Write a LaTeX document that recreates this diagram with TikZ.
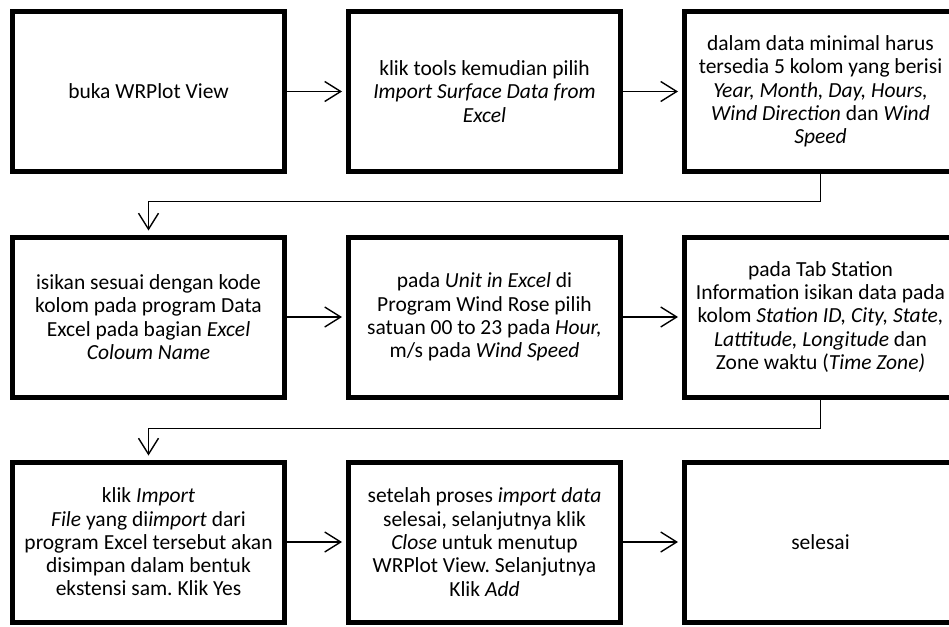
\documentclass[tikz,border=0pt]{standalone}
\usepackage{fontspec}
\setmainfont{Carlito}
\frenchspacing
\usetikzlibrary{positioning,arrows.meta}

\begin{document}
\begin{tikzpicture}[x=1pt,y=1pt]
\tikzstyle{every node}+=[inner sep=0pt]
\tikzstyle{stepbox}=[draw=black,line width=5pt,minimum width=272pt,minimum height=160pt,
  align=center,font=\fontsize{21.5}{23.3}\selectfont]
\tikzstyle{flow}=[black,line width=1.4pt,-{Straight Barb[length=16pt,width=20pt,line width=1.4pt]},shorten >=4pt]
\useasboundingbox (0,0) rectangle (949,-626);
% row 1
\node [stepbox] (buka) at (148.5,-91.5) {buka WRPlot View};
\node [stepbox,on grid,right=336pt of buka] (tools) {klik tools kemudian pilih\\ \textit{Import Surface Data from}\\ \textit{Excel}};
\node [stepbox,on grid,right=336pt of tools] (kolom) {dalam data minimal harus\\ tersedia 5 kolom yang berisi\\ \textit{Year, Month, Day, Hours,}\\ \textit{Wind Direction} dan \textit{Wind}\\ \textit{Speed}};
% row 2
\node [stepbox,on grid,below=225.5pt of buka] (isikan) {isikan sesuai dengan kode\\ kolom pada program Data\\ Excel pada bagian \textit{Excel}\\ \textit{Coloum Name}};
\node [stepbox,on grid,right=336pt of isikan] (unit) {pada \textit{Unit in Excel} di\\ Program Wind Rose pilih\\ satuan 00 to 23 pada \textit{Hour,}\\ m/s pada \textit{Wind Speed}};
\node [stepbox,on grid,right=336pt of unit] (station) {pada Tab Station\\ Information isikan data pada\\ kolom \textit{Station ID, City, State,}\\ \textit{Lattitude, Longitude} dan\\ Zone waktu (\textit{Time Zone)}};
% row 3
\node [stepbox,on grid,below=225pt of isikan] (impor) {klik \textit{Import}\\ \textit{File} yang di\textit{import} dari\\ program Excel tersebut akan\\ disimpan dalam bentuk\\ ekstensi sam. Klik Yes};
\node [stepbox,on grid,right=336pt of impor] (close) {setelah proses \textit{import data}\\ selesai, selanjutnya klik\\ \textit{Close} untuk menutup\\ WRPlot View. Selanjutnya\\ Klik \textit{Add}};
\node [stepbox,on grid,right=336pt of close] (selesai) {selesai};
% arrows
\draw [flow] (buka) -- (tools);
\draw [flow] (tools) -- (kolom);
\draw [flow] (kolom.south) -- ++(0,-27.5) -| (isikan.north);
\draw [flow] (isikan) -- (unit);
\draw [flow] (unit) -- (station);
\draw [flow] (station.south) -- ++(0,-29) -| (impor.north);
\draw [flow] (impor) -- (close);
\draw [flow] (close) -- (selesai);
\end{tikzpicture}
\end{document}
